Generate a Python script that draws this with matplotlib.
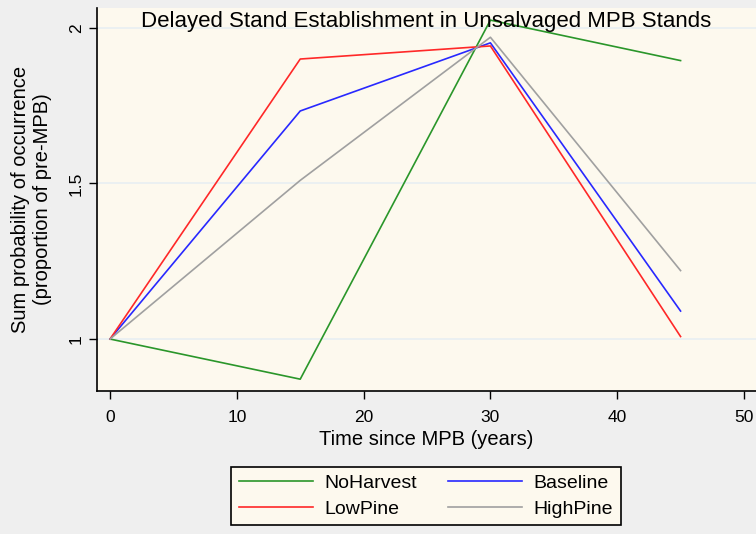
import matplotlib
matplotlib.use("Agg")
from matplotlib import pyplot as plt
import numpy as np

# values
years = [0, 15, 30, 45]
noharvest = [1.0, 0.871, 2.025, 1.895]
baseline = [1.0, 1.733, 1.952, 1.09]
lowpine = [1.0, 1.90, 1.942, 1.008]
highpine = [1.0, 1.51, 1.97, 1.22]

series_names = ["NoHarvest", "Baseline", "LowPine", "HighPine"]
series_colors = ["#2a962a", "#2828ff", "#ff2828", "#a0a0a0"]

xticks = [0, 10, 20, 30, 40, 50]
yticks = [1, 1.5, 2]
ytick_labels = ["1", "1.5", "2"]

plt.rcParams['font.family'] = ['Liberation Sans', 'DejaVu Sans']

fig = plt.figure(figsize=(7.56, 5.34), dpi=100)
fig.patch.set_facecolor('#efefef')
ax = fig.add_axes([97/756, 1-391/534, 659/756, 383/534])
ax.set_facecolor('#fdf9ee')

for yv in yticks:
    ax.axhline(yv, color='#e8eff2', lw=1.2, zorder=1)

data = [noharvest, baseline, lowpine, highpine]
lines = []
for name, vals, c in zip(series_names, data, series_colors):
    ln, = ax.plot(years, vals, color=c, lw=1.2, label=name, zorder=3)
    lines.append(ln)

ax.set_xlim(-1.03, 50.95)
ax.set_ylim(0.833, 2.064)
ax.set_xticks(xticks)
ax.set_yticks(yticks)
ax.set_yticklabels(ytick_labels, rotation=90, va='center')
ax.tick_params(axis='both', labelsize=12.5, length=6, width=1, direction='out')
ax.tick_params(axis='x', pad=8)

for side in ['top', 'right']:
    ax.spines[side].set_visible(False)
for side in ['left', 'bottom']:
    ax.spines[side].set_linewidth(1.2)

ax.set_xlabel("Time since MPB (years)", fontsize=14.5, labelpad=3)
ax.set_ylabel("Sum probability of occurrence\n(proportion of pre-MPB)", fontsize=14.5, labelpad=12)

ax.text(0.5, 0.993, "Delayed Stand Establishment in Unsalvaged MPB Stands",
        transform=ax.transAxes, ha='center', va='top', fontsize=16, zorder=5)

# legend order: NoHarvest, LowPine in column 1; Baseline, HighPine in column 2
order = [0, 2, 1, 3]
leg = fig.legend([lines[i] for i in order], [series_names[i] for i in order],
                 ncol=2, loc='center', bbox_to_anchor=(426/756, 1-496/534),
                 fontsize=14, frameon=True, fancybox=False, handlelength=3.8,
                 columnspacing=1.6, handletextpad=0.6, borderpad=0.4, labelspacing=0.4)
leg.get_frame().set_facecolor('#fdf9ee')
leg.get_frame().set_edgecolor('black')
leg.get_frame().set_linewidth(1.2)
leg.get_frame().set_alpha(1)

plt.savefig("out.png", dpi=100, facecolor=fig.get_facecolor())
